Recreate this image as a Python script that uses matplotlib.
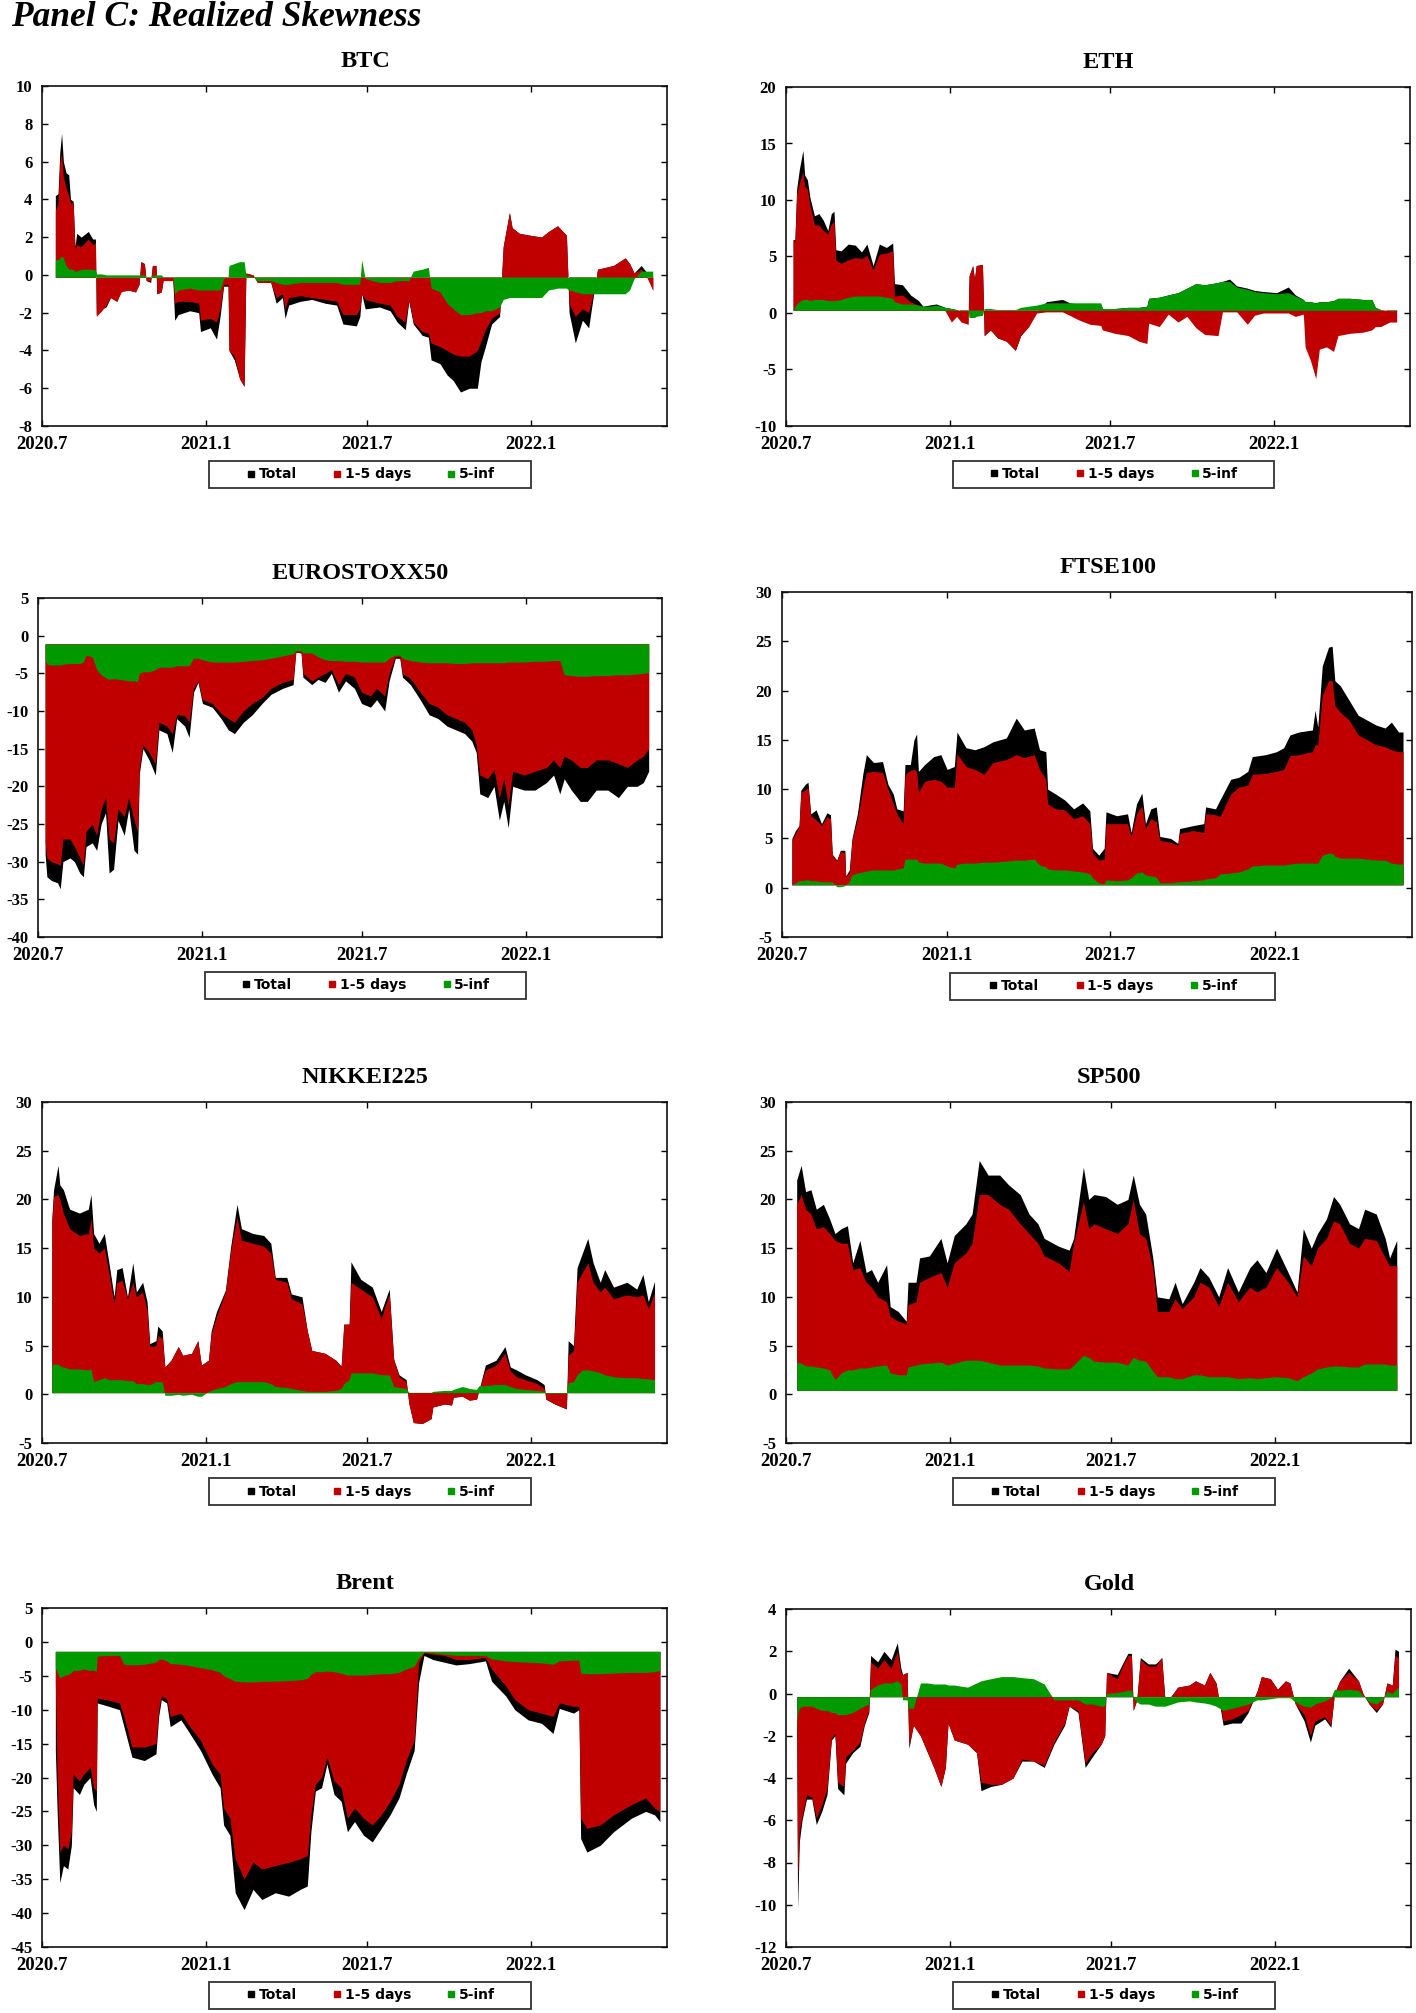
import numpy as np
import matplotlib
matplotlib.use("Agg")
import matplotlib.pyplot as plt
from matplotlib.lines import Line2D
from matplotlib.patches import Rectangle
from matplotlib.font_manager import FontProperties

plt.rcParams['axes.unicode_minus'] = False

# ---------------- data (x = days since 2020-07-01) ----------------
tick_days = [0, 184, 365, 549]
tick_labels = ['2020.7', '2021.1', '2021.7', '2022.1']
legend_labels = ['Total', '1-5 days', '5-inf']

btc_days = [15,18,20,22,24,27,30,32,35,37, 39,44,52,57,60,61,67,72,77,84, 89,97,105,109,111,115,117,122,124,128,
            129,134,136,147,149,153,166,176,178,189, 196,200,204,209,210,216,222,227,229,237, 242,257,263,270,273,277,290,303,318,331,
            338,353,357,359,363,379,391,399,408,412, 417,427,434,437,447,455,462,470,480,489, 493,498,505,514,518,525,528,536,548,561,
            569,579,589,592,599,607,614,619,624,642, 655,660,665,673,678,686]
btc_total = [4.2,4.3,6.5,7.5,6.0,5.4,5.3,4.0,3.9,1.5, 2.2,2.0,2.3,1.9,1.9,-2.1,-1.8,-1.7,-1.2,-1.4, -0.8,-0.8,-0.9,-0.5,0.7,0.6,-0.3,-0.4,0.5,0.5,
             -1.0,-0.9,-0.3,-0.3,-2.4,-2.1,-1.9,-2.0,-3.0,-2.8, -3.4,-2.2,-0.6,-0.6,-4.0,-4.5,-5.5,-5.9,0.1,0.0, -0.4,-0.4,-1.5,-1.2,-2.3,-1.6,-1.4,-1.3,-1.5,-1.6,
             -2.6,-2.7,-2.2,-1.0,-1.8,-1.7,-1.9,-2.5,-2.9,-1.4, -2.6,-3.2,-3.3,-4.5,-4.7,-5.3,-5.6,-6.2,-6.0,-6.0, -4.6,-3.8,-2.6,-2.2,1.5,3.3,2.5,2.2,2.1,2.0,
             2.3,2.6,2.1,-2.0,-3.6,-2.4,-2.8,-1.2,0.3,0.5, 0.9,0.6,0.1,0.5,0.2,-0.8]
btc_short = [3.4,3.8,6.0,6.4,5.2,4.6,4.2,3.8,3.8,1.4, 1.6,1.5,1.9,1.6,1.7,-2.2,-1.9,-1.6,-1.2,-1.4, -0.9,-0.8,-0.9,-0.5,0.7,0.6,-0.3,-0.3,0.5,0.5,
             -1.0,-0.9,-0.3,-0.3,-1.5,-1.4,-1.4,-1.5,-2.4,-2.3, -2.5,-1.8,-0.5,-0.5,-4.0,-4.3,-5.5,-5.9,0.1,0.0, -0.4,-0.4,-1.2,-1.0,-1.8,-1.2,-1.1,-1.2,-1.3,-1.4,
             -2.1,-2.1,-1.8,-1.0,-1.3,-1.5,-1.6,-2.2,-2.5,-1.3, -2.5,-3.0,-3.1,-3.6,-3.8,-4.0,-4.2,-4.3,-4.3,-4.0, -3.5,-2.9,-2.3,-2.0,1.5,3.3,2.5,2.2,2.1,2.0,
             2.3,2.6,2.1,-1.5,-2.2,-1.8,-2.0,-1.0,0.3,0.5, 0.9,0.6,0.1,0.3,0.0,-0.8]
btc_long = [0.8,0.8,0.9,1.0,0.9,0.5,0.3,0.3,0.3,0.2, 0.2,0.3,0.3,0.3,0.25,0.05,0.05,0.0,0.0,0.0, 0.0,0.0,0.0,0.0,0.0,0.0,-0.1,-0.1,0.0,0.0,
            0.0,0.0,-0.1,-0.1,-1.0,-0.8,-0.7,-0.8,-0.8,-0.8, -0.8,-0.8,-0.2,-0.1,0.5,0.6,0.7,0.7,0.0,-0.1, -0.3,-0.3,-0.4,-0.5,-0.5,-0.5,-0.4,-0.4,-0.4,-0.4,
            -0.5,-0.5,-0.5,0.8,-0.2,-0.4,-0.4,-0.3,-0.3,-0.3, 0.2,0.3,0.4,-0.7,-0.9,-1.5,-1.8,-2.1,-2.1,-2.0, -2.0,-1.9,-1.9,-1.7,-1.3,-1.2,-1.2,-1.2,-1.2,-1.2,
            -0.8,-0.7,-0.7,-0.8,-0.9,-1.0,-1.0,-1.0,-1.0,-1.0, -1.0,-0.8,-0.2,0.2,0.2,0.2]

eth_days = [8,10,12,15,19,21,24,27,32,37, 42,47,51,54,56,62,70,78,85,91, 98,105,113,120,122,131,140,149,154,161,
            169,179,186,192,197,205,206,210,212,214, 221,223,230,238,248,258,264,273,282,293, 311,319,329,342,354,356,370,385,397,406,
            408,420,430,441,451,461,471,486,491,499, 507,519,527,537,552,565,573,582,584,590, 596,600,608,616,621,634,649,659,663,669,
            679,687]
eth_total = [6.5,6.5,11.0,12.7,14.4,12.2,11.8,10.2,8.6,8.8, 8.2,7.3,8.8,9.0,5.6,5.5,6.1,6.0,5.4,6.1, 4.2,6.1,5.8,6.2,2.6,2.5,1.6,1.1,0.6,0.7,
             0.8,0.5,0.4,0.3,0.2,0.2,3.3,4.2,3.0,4.2, 4.3,-2.0,-1.5,-2.2,-2.5,-3.3,-2.0,-1.2,0.2,1.0, 1.2,0.9,0.8,0.8,0.8,0.4,0.4,0.5,0.5,0.6,
             1.3,1.4,1.6,1.8,2.2,2.6,2.5,2.7,2.8,3.0, 2.4,2.2,2.0,1.9,1.8,2.3,1.6,1.2,1.0,1.0, 0.9,1.0,1.0,1.1,1.3,1.3,1.2,1.2,0.5,0.3,
             0.2,0.2]
eth_short = [6.5,6.3,10.5,11.5,12.5,11.2,11.0,9.5,7.8,7.8, 7.3,7.0,7.9,8.1,4.7,4.4,4.7,4.9,4.8,5.1, 3.8,5.2,5.3,5.5,1.5,1.6,1.0,0.7,0.5,0.3,
             0.4,0.2,-0.8,-0.3,-0.8,-1.0,3.3,4.2,3.0,4.2, 4.3,-2.0,-1.5,-2.2,-2.5,-3.3,-2.0,-1.2,0.0,0.1, 0.1,-0.2,-0.6,-1.0,-1.1,-1.5,-1.8,-2.0,-2.5,-2.7,
             -0.9,-1.2,-0.1,-0.8,-0.3,-1.3,-1.9,-2.0,0.1,0.1, 0.1,-1.0,-0.2,0.0,0.0,0.0,-0.3,-0.1,-3.0,-4.2, -5.8,-3.2,-3.0,-3.4,-2.0,-1.8,-1.7,-1.5,-1.2,-1.2,
             -0.8,-0.8]
eth_long = [0.3,0.5,0.8,1.0,1.2,1.2,1.2,1.1,1.2,1.2, 1.2,1.1,1.1,1.1,1.1,1.2,1.4,1.5,1.5,1.5, 1.5,1.5,1.4,1.3,1.0,0.8,0.8,0.7,0.6,0.6,
            0.7,0.5,0.4,0.3,0.2,0.2,-0.4,-0.4,-0.4,-0.3, -0.2,0.4,0.4,0.3,0.3,0.3,0.5,0.6,0.7,0.9, 0.9,0.9,0.9,0.9,0.9,0.4,0.4,0.5,0.5,0.6,
            1.3,1.4,1.6,1.8,2.2,2.6,2.5,2.7,2.8,2.8, 2.3,2.1,1.9,1.8,1.7,1.8,1.5,1.2,1.0,1.0, 0.9,1.0,1.0,1.1,1.3,1.3,1.2,1.2,0.5,0.3,
            0.2,0.2]

euro_days = [8,10,15,22,25,28,36,41,47,51, 54,61,66,71,76,80,85,90,97,102, 108,112,114,118,125,132,136,145,151,156,
             165,170,175,180,185,196,206,214,221,231, 241,252,262,275,287,290,296,298,308,315, 323,330,338,346,356,364,374,381,390,395,
             402,407,410,419,430,440,450,460,470,480, 488,493,497,506,513,519,524,529,534,547, 559,572,580,587,592,600,610,618,628,641,
             653,663,674,681,687]
euro_total = [-29.0,-32.0,-32.5,-32.8,-33.6,-30.0,-29.5,-30.0,-31.5,-32.0, -28.0,-27.5,-28.5,-25.0,-23.5,-31.5,-31.0,-24.5,-26.5,-23.0,
              -28.5,-29.0,-18.3,-15.0,-16.5,-18.5,-12.5,-13.0,-15.5,-11.0, -12.0,-13.5,-7.5,-6.2,-9.0,-9.5,-11.0,-12.5,-13.0,-11.5,
              -10.5,-9.0,-7.8,-7.0,-6.5,-2.2,-2.3,-5.5,-6.5,-5.8, -6.2,-5.0,-7.5,-6.0,-7.0,-9.0,-9.5,-8.5,-10.0,-6.0,
              -3.0,-3.0,-5.5,-6.5,-8.5,-10.5,-11.0,-12.0,-12.5,-13.0, -14.0,-15.5,-21.0,-21.5,-20.0,-24.5,-22.0,-25.5,-20.0,-20.5,
              -20.5,-19.5,-18.5,-21.0,-19.0,-20.5,-22.0,-22.0,-20.5,-20.5, -21.5,-20.0,-20.0,-19.5,-18.0]
euro_short = [-27.5,-29.5,-30.0,-30.3,-30.5,-27.0,-27.0,-28.0,-29.5,-30.5, -26.0,-25.0,-26.5,-23.0,-21.5,-27.0,-27.5,-23.0,-24.0,-21.5,
              -24.5,-26.0,-17.5,-14.5,-15.5,-17.0,-11.5,-12.0,-13.0,-10.5, -10.6,-11.5,-7.0,-6.0,-8.5,-9.0,-10.3,-11.0,-11.5,-10.0,
              -9.0,-8.2,-7.0,-6.2,-5.8,-2.2,-2.2,-5.0,-6.0,-5.5, -5.0,-4.5,-6.5,-5.0,-5.5,-7.5,-8.0,-7.0,-8.0,-5.0,
              -2.8,-2.8,-5.0,-5.7,-7.5,-9.0,-9.5,-10.5,-11.0,-11.5, -12.5,-14.5,-18.5,-19.0,-17.8,-21.5,-19.0,-22.5,-18.0,-18.5,
              -18.0,-17.5,-16.5,-17.5,-16.0,-16.5,-17.5,-17.5,-16.5,-16.5, -17.0,-17.5,-16.5,-16.0,-15.0]
euro_long = [-3.2,-3.8,-3.9,-3.9,-3.9,-3.8,-3.7,-3.7,-3.7,-3.5, -2.6,-2.8,-4.5,-5.2,-5.6,-5.8,-5.7,-5.8,-5.9,-6.0,
             -6.0,-6.1,-5.0,-4.8,-4.8,-4.5,-4.2,-4.2,-4.2,-4.0, -4.0,-4.0,-3.0,-3.0,-3.2,-3.5,-3.5,-3.5,-3.5,-3.4,
             -3.3,-3.2,-3.0,-2.7,-2.4,-2.0,-2.0,-2.3,-2.3,-2.8, -3.2,-3.3,-3.3,-3.4,-3.4,-3.5,-3.5,-3.5,-3.5,-3.0,
             -2.6,-2.6,-3.0,-3.3,-3.5,-3.6,-3.6,-3.6,-3.7,-3.7, -3.6,-3.6,-3.6,-3.6,-3.6,-3.6,-3.6,-3.5,-3.5,-3.5,
             -3.4,-3.4,-3.3,-3.3,-5.2,-5.3,-5.4,-5.4,-5.3,-5.3, -5.2,-5.2,-5.1,-5.0,-4.9]

ftse_days = [11,15,19,21,26,29,32,38,44,50, 54,56,61,65,70,71,75,78,84,90, 94,102,112,118,124,128,135,137,143,147,
             150,152,159,169,177,184,192,195,205,215, 225,235,250,261,270,281,287,294,296,305, 315,325,335,343,346,353,359,361,373,385,
             389,395,401,405,411,417,421,433,441,443, 458,470,472,483,488,500,509,519,524,539, 551,559,566,576,591,594,597,602,609,613,
             616,622,632,642,652,662,672,679,687,692]
ftse_total = [5.0,5.8,6.3,9.9,10.5,10.7,7.5,7.9,6.5,7.6, 7.4,3.4,2.8,3.8,3.8,1.2,1.8,5.0,7.5,11.5, 13.5,12.7,12.8,10.5,9.5,8.0,7.8,12.5,12.5,15.0,
              15.6,11.8,12.5,13.3,13.5,12.0,12.3,15.8,14.2,14.0, 14.3,14.8,15.2,17.2,16.0,16.2,14.0,13.8,10.0,9.5, 8.9,8.0,8.6,7.8,4.0,3.3,4.0,7.7,7.3,7.5,
              5.6,8.5,9.6,6.5,8.0,8.2,5.2,5.0,4.5,6.0, 6.3,6.5,8.2,8.0,8.9,11.0,11.2,11.8,13.3,13.5, 13.8,14.2,15.5,15.8,16.0,18.0,16.3,22.5,24.4,24.5,
              21.0,20.5,19.0,17.5,17.0,16.5,16.2,16.8,15.8,15.8]
ftse_short = [4.8,5.5,6.2,9.7,9.9,10.2,7.3,6.9,6.3,7.2, 7.0,3.3,2.7,3.7,3.5,1.1,1.5,4.8,7.0,10.0, 11.7,11.8,11.7,10.0,8.5,7.5,6.5,11.5,11.9,12.0,
              11.8,9.7,10.8,11.0,10.8,10.2,10.2,13.6,12.3,12.0, 11.5,12.7,13.0,13.5,13.2,13.5,12.0,11.0,8.5,8.0, 7.9,7.0,7.3,6.5,3.5,2.8,2.9,6.5,6.5,6.5,
              5.2,7.5,8.3,6.0,7.0,6.7,4.8,4.6,4.3,5.5, 5.8,5.6,7.5,7.4,7.2,9.5,10.2,10.4,11.5,11.6, 11.8,12.0,13.4,13.5,13.8,14.5,14.5,19.5,21.0,21.0,
              18.5,17.8,17.0,15.5,15.0,14.5,14.3,14.0,13.8,13.8]
ftse_long = [0.3,0.5,0.7,0.7,0.8,0.8,0.7,0.7,0.6,0.6, 0.6,0.6,0.1,0.1,0.2,0.3,0.6,1.3,1.5,1.6, 1.7,1.8,1.8,1.8,1.8,1.9,2.0,2.9,2.9,2.9,
             2.9,2.6,2.5,2.5,2.5,2.2,2.0,2.4,2.5,2.5, 2.6,2.6,2.7,2.8,2.8,2.9,2.3,2.1,1.9,1.8, 1.8,1.7,1.6,1.4,1.0,0.5,0.4,0.8,0.7,0.8,
             1.0,1.5,1.6,1.3,1.2,1.1,0.5,0.5,0.6,0.6, 0.7,0.8,0.9,1.0,1.4,1.5,1.6,1.9,2.2,2.3, 2.3,2.3,2.4,2.5,2.5,2.5,2.5,3.3,3.5,3.5,
             3.2,3.0,3.0,3.0,2.9,2.8,2.8,2.5,2.4,2.4]

nikkei_days = [11,13,18,20,24,31,42,52,55,58, 64,70,76,81,84,90,96,102,106,113, 118,121,128,130,135,138,145,153,158,168,
               175,179,187,190,196,206,212,219,224,237, 249,257,262,275,280,292,298,303,318,330, 336,339,345,347,358,371,381,390,395,401,
               409,412,417,427,437,439,452,460,462,472, 480,488,491,498,510,520,526,533,543,556, 564,566,576,589,591,597,601,607,613,619,
               627,632,642,657,668,675,681,688]
nikkei_total = [18.0,21.0,23.5,21.5,21.0,19.0,18.6,19.0,20.5,16.5, 15.5,16.5,13.0,10.0,12.8,13.0,10.0,13.5,10.5,11.5,
                9.5,5.2,5.5,7.0,6.5,2.8,3.5,4.9,4.0,4.2, 5.5,3.0,3.5,6.5,8.5,10.7,15.2,19.5,17.0,16.5,
                16.3,15.5,12.0,12.0,10.3,10.0,6.5,4.5,4.2,3.5, 2.9,7.2,7.2,13.6,11.8,11.0,8.5,10.8,3.6,2.0,
                1.5,-0.9,-2.9,-3.0,-2.5,-1.3,-1.0,-1.1,-0.3,-0.2, -0.6,-0.5,0.5,3.0,3.5,4.9,2.8,2.5,2.0,1.5,
                1.0,-0.5,-1.0,-1.5,5.5,5.0,13.0,14.5,16.0,13.5, 11.5,12.8,11.0,11.5,10.8,12.3,9.5,11.6]
nikkei_short = [17.5,20.3,20.5,20.0,18.6,17.0,16.3,16.5,18.0,15.0, 14.5,15.0,12.0,9.3,11.5,11.7,9.8,11.5,10.0,10.5,
                8.6,4.9,5.0,6.0,5.8,2.8,3.5,4.9,4.0,4.2, 5.5,3.0,3.5,6.2,8.0,10.5,14.8,18.2,15.8,15.5,
                15.2,14.5,11.8,11.5,9.8,9.3,6.5,4.5,4.2,3.5, 2.8,7.2,7.2,11.5,10.8,10.0,7.8,10.3,3.6,1.8,
                1.3,-0.9,-2.9,-3.0,-2.5,-1.3,-1.0,-1.1,-0.3,-0.2, -0.6,-0.5,0.5,2.5,3.0,4.2,2.4,1.8,1.5,1.1,
                0.6,-0.5,-1.0,-1.5,4.0,4.5,11.5,12.5,13.5,11.5, 10.5,11.0,9.8,10.2,10.0,10.2,8.8,10.4]
nikkei_long = [3.0,3.1,3.1,2.9,2.8,2.6,2.6,2.5,2.6,1.3, 1.5,1.7,1.5,1.5,1.5,1.5,1.4,1.4,1.1,1.1,
               1.0,1.0,1.3,1.3,1.3,-0.1,-0.1,0.0,-0.1,0.0, -0.2,-0.2,0.3,0.4,0.6,0.8,1.1,1.3,1.3,1.3,
               1.3,1.1,0.8,0.7,0.6,0.4,0.3,0.3,0.3,0.4, 0.6,1.1,1.5,2.2,2.2,2.2,2.0,2.0,0.8,0.7,
               0.6,0.2,0.2,0.2,0.2,0.3,0.4,0.4,0.5,0.8, 0.6,0.5,0.9,0.9,1.0,1.0,0.8,0.6,0.5,0.4,
               0.3,0.1,0.1,0.1,1.2,1.3,2.0,2.5,2.5,2.4, 2.2,2.0,1.8,1.7,1.7,1.6,1.6,1.5]

sp_days = [12,17,22,28,34,42,49,55,62,69, 75,83,90,96,103,113,117,126,135,137, 146,150,161,174,181,189,202,209,217,227,
           240,250,263,273,283,290,306,318,323,334, 340,346,359,372,384,390,397,404,412,417, 430,437,445,458,465,475,486,496,508,521,
           529,539,551,564,574,581,590,597,607,615, 622,633,643,650,663,673,678,686]
sp_total = [22.0,23.5,20.8,21.0,19.0,19.5,18.0,16.5,17.0,17.3, 13.5,15.8,12.5,12.8,11.5,13.3,9.0,8.5,7.5,11.5,
            11.5,14.0,14.2,16.0,13.5,16.3,17.5,18.5,24.0,22.5, 22.5,21.5,20.5,18.5,17.5,16.0,15.2,14.8,16.0,23.3,
            20.0,20.5,20.3,19.5,20.0,22.5,19.5,18.5,14.0,10.0, 9.8,11.5,9.3,11.5,13.0,12.0,10.0,13.0,10.5,13.0,
            13.8,12.5,15.0,12.5,10.5,17.0,15.0,16.5,18.0,20.3, 19.5,17.5,17.0,19.0,18.5,16.0,14.0,15.8]
sp_short = [19.5,20.5,19.0,18.5,17.0,17.2,16.5,15.8,15.5,15.5, 12.8,13.0,11.5,11.0,10.0,9.5,8.0,7.5,7.2,9.2,
            9.5,11.5,12.0,12.5,11.0,13.5,14.5,15.5,20.5,20.5, 19.5,19.0,17.5,16.5,15.5,14.2,13.5,12.6,15.5,19.8,
            17.0,17.5,17.0,16.5,17.5,20.0,16.5,16.0,13.0,8.5, 8.5,9.8,8.8,10.0,11.5,11.0,9.0,11.5,9.5,11.0,
            10.5,11.0,13.0,11.5,10.0,14.2,13.2,15.0,16.0,17.8, 17.5,15.5,15.0,16.0,15.8,14.0,13.2,13.2]
sp_long = [3.3,3.2,2.9,2.9,2.8,2.7,2.5,1.5,2.2,2.5, 2.5,2.7,2.7,2.8,2.9,3.0,2.2,2.0,2.0,2.8,
           3.0,3.1,3.2,3.3,3.0,3.2,3.5,3.5,3.5,3.3, 3.0,3.0,3.0,3.0,2.9,2.7,2.6,2.6,3.0,4.0,
           3.8,3.4,3.3,3.3,3.0,3.8,3.5,3.4,2.4,1.8, 1.8,1.6,1.6,2.0,2.0,1.8,1.8,1.8,1.6,1.7,
           1.6,1.7,1.8,1.7,1.4,1.8,2.2,2.6,2.8,2.9, 2.9,2.8,2.8,3.1,3.1,3.1,3.0,3.0]

brent_days = [15,17,20,24,29,33,35,42,47,54, 58,61,62,75,87,92,101,115,128,131, 134,140,144,156,166,178,191,200,204,211,
              217,227,237,247,262,277,290,298,302,307, 314,320,328,336,343,351,361,371,381,391, 401,409,418,423,429,439,452,465,480,498,
              505,521,531,546,561,574,581,597,603,605, 612,627,642,662,678,688,694]
brent_total = [-16.0,-25.0,-35.5,-33.0,-33.5,-30.0,-21.5,-22.5,-21.0,-20.0, -24.0,-25.0,-9.0,-9.5,-10.0,-12.5,-17.0,-17.5,-16.5,-11.0,
               -8.5,-9.0,-12.5,-11.5,-13.5,-16.0,-19.5,-21.5,-27.0,-28.5, -37.0,-39.5,-36.5,-38.0,-37.0,-37.5,-36.5,-36.0,-28.0,-22.0,
               -21.5,-18.0,-22.5,-23.5,-28.0,-26.5,-28.5,-29.5,-27.5,-25.5, -23.0,-19.5,-16.0,-6.0,-2.0,-2.6,-3.0,-3.4,-3.2,-2.8,
               -5.8,-8.0,-10.0,-11.5,-12.0,-13.5,-9.8,-10.5,-10.0,-29.0, -31.0,-30.0,-28.0,-26.0,-25.0,-25.5,-26.5]
brent_short = [-6.0,-20.0,-31.0,-30.0,-30.5,-28.0,-19.5,-20.5,-19.5,-18.5, -21.5,-22.0,-8.3,-8.6,-9.0,-11.0,-15.5,-15.5,-15.0,-10.0,
               -8.0,-8.4,-11.0,-10.5,-12.5,-14.5,-18.0,-19.5,-24.5,-26.0, -32.0,-35.0,-32.5,-33.5,-33.0,-32.5,-32.0,-31.5,-25.5,-21.0,
               -20.0,-17.0,-20.5,-21.5,-26.0,-24.5,-26.0,-27.0,-25.5,-23.5, -21.0,-17.5,-14.5,-3.0,-1.6,-1.8,-2.0,-2.6,-2.6,-2.3,
               -4.0,-6.5,-8.5,-10.0,-10.5,-11.0,-9.0,-9.5,-9.5,-26.0, -27.5,-27.0,-25.5,-24.0,-23.0,-24.5,-25.0]
brent_long = [-3.8,-4.5,-5.3,-5.0,-4.8,-4.5,-4.2,-4.2,-4.0,-4.2, -4.2,-4.3,-2.1,-2.0,-2.0,-3.3,-3.4,-3.3,-3.0,-2.6,
              -2.5,-2.8,-3.2,-3.3,-3.5,-3.8,-4.1,-4.5,-5.0,-5.4, -5.8,-5.9,-5.9,-5.8,-5.8,-5.7,-5.6,-5.4,-4.8,-4.4,
              -4.4,-4.3,-4.4,-4.6,-4.9,-4.9,-4.9,-4.8,-4.7,-4.7, -4.5,-4.0,-3.6,-2.4,-1.5,-1.6,-1.8,-2.0,-2.0,-2.0,
              -2.5,-2.8,-2.9,-3.0,-3.1,-3.3,-2.8,-2.7,-2.7,-4.6, -4.7,-4.7,-4.6,-4.5,-4.5,-4.4,-4.2]

gold_days = [12,13,15,18,23,29,34,40,46,51, 55,58,65,67,75,83,88,93,95,103, 110,118,125,129,131,136,138,143,151,159,
             166,174,179,182,189,204,214,219,230,242, 255,265,278,290,301,313,318,328,336,344, 354,358,360,372,379,384,388,390,394,398,
             407,415,422,426,440,453,460,470,476,483, 491,501,511,519,529,534,544,552,561,566, 572,582,589,594,605,612,616,622,632,643,
             648,655,663,670,675,681,684,688]
gold_total = [-1.5,-10.2,-7.0,-6.0,-5.0,-5.0,-6.2,-5.6,-4.8,-2.2, -2.0,-4.5,-4.8,-3.3,-2.8,-2.5,-1.5,-0.9,1.8,1.5,
              2.0,1.6,2.4,1.2,0.9,1.0,-2.6,-1.5,-2.0,-2.8, -3.5,-4.4,-3.5,-1.4,-2.2,-2.4,-2.8,-4.6,-4.4,-4.3,
              -4.0,-3.2,-3.2,-3.5,-2.4,-1.5,-0.6,-0.9,-3.5,-3.0, -2.4,-2.0,1.0,0.9,1.5,1.9,1.9,-0.8,-0.3,1.7,
              1.4,1.4,1.7,-0.5,0.3,0.4,0.6,0.4,1.0,0.5, -1.5,-1.4,-1.4,-0.9,0.1,0.8,0.7,0.2,0.6,0.5,
              -0.5,-1.3,-2.3,-1.5,-1.2,-1.6,0.0,0.6,1.2,0.6, 0.0,-0.5,-0.9,-0.5,0.5,0.4,2.1,2.0]
gold_short = [-1.5,-8.8,-6.5,-5.8,-4.8,-4.9,-5.9,-5.3,-4.5,-2.1, -1.9,-4.2,-4.4,-3.0,-2.7,-2.3,-1.4,-0.8,1.5,1.2,
              1.6,1.2,2.0,1.0,0.9,1.0,-2.5,-1.5,-2.0,-2.8, -3.5,-4.4,-3.5,-1.4,-2.2,-2.4,-2.8,-4.2,-4.3,-4.3,
              -4.0,-3.1,-3.2,-3.4,-2.3,-1.4,-0.6,-0.8,-3.3,-2.8, -2.4,-2.0,1.0,0.7,1.4,1.8,1.8,-0.8,-0.3,1.6,
              1.3,1.3,1.7,-0.5,0.3,0.4,0.6,0.4,1.0,0.5, -1.3,-1.2,-1.0,-0.8,0.1,0.8,0.7,0.2,0.6,0.5,
              -0.5,-1.0,-2.0,-1.3,-1.1,-1.5,0.0,0.6,1.0,0.6, 0.0,-0.5,-0.8,-0.5,0.5,0.4,1.8,1.7]
gold_long = [-1.5,-1.0,-0.7,-0.6,-0.6,-0.6,-0.7,-0.8,-0.8,-0.9, -0.9,-1.0,-1.0,-1.0,-0.9,-0.7,-0.6,-0.5,0.2,0.4,
             0.5,0.5,0.6,0.45,-0.3,-0.3,-0.7,-0.7,0.5,0.5, 0.45,0.45,0.45,0.4,0.4,0.3,0.5,0.6,0.7,0.8,
             0.8,0.75,0.7,0.45,-0.3,-0.3,-0.3,-0.3,-0.5,-0.5, -0.6,-0.6,0.0,0.05,0.1,0.15,0.15,-0.2,-0.4,-0.5,
             -0.5,-0.6,-0.6,-0.6,-0.4,-0.35,-0.4,-0.45,-0.5,-0.6, -0.8,-0.7,-0.6,-0.5,-0.3,-0.3,-0.25,-0.2,-0.2,-0.2,
             -0.4,-0.6,-0.65,-0.5,-0.35,-0.2,0.2,0.15,0.2,0.15, -0.1,-0.4,-0.5,-0.3,0.1,0.0,0.15,0.3]

# level from which the areas are filled in each panel (as drawn in the original)
fill_bases = [-0.12, 0.25, -1.1, 0.3, 0.17, 0.4, -1.4, -0.15]

panels = [
    ('BTC', btc_days, btc_total, btc_short, btc_long, (-8, 10, 2)),
    ('ETH', eth_days, eth_total, eth_short, eth_long, (-10, 20, 5)),
    ('EUROSTOXX50', euro_days, euro_total, euro_short, euro_long, (-40, 5, 5)),
    ('FTSE100', ftse_days, ftse_total, ftse_short, ftse_long, (-5, 30, 5)),
    ('NIKKEI225', nikkei_days, nikkei_total, nikkei_short, nikkei_long, (-5, 30, 5)),
    ('SP500', sp_days, sp_total, sp_short, sp_long, (-5, 30, 5)),
    ('Brent', brent_days, brent_total, brent_short, brent_long, (-45, 5, 5)),
    ('Gold', gold_days, gold_total, gold_short, gold_long, (-12, 4, 2)),
]

# ---------------- layout / style ----------------
W, H = 1416, 2013
boxes = [(42, 86, 667, 426), (786, 87, 1410, 426),
         (38, 598, 662, 937), (782, 592, 1412, 937),
         (42, 1102, 667, 1443), (786, 1102, 1411, 1443),
         (42, 1608, 667, 1947), (786, 1609, 1411, 1947)]
C_TOTAL, C_SHORT, C_LONG = '#000000', '#c00000', '#009900'

fig = plt.figure(figsize=(W / 100, H / 100), dpi=100)
fig.patch.set_facecolor('white')
fig.text(11 / W, 1 - 26 / H, 'Panel C: Realized Skewness', family='Liberation Serif',
         style='italic', weight='bold', fontsize=25.5, va='baseline', ha='left')

ytick_font = FontProperties(family='Liberation Serif', weight='bold', size=12)
xtick_font = FontProperties(family='Liberation Serif', weight='bold', size=13.5)
leg_font = FontProperties(family='DejaVu Sans', weight='bold', size=10)

for (name, days, tot, sho, lon, (lo, hi, st)), (l, t, r, b), base in zip(panels, boxes, fill_bases):
    ax = fig.add_axes([l / W, 1 - b / H, (r - l) / W, (b - t) / H])
    x = np.asarray(days, dtype=float)
    ax.fill_between(x, base, np.asarray(tot), color=C_TOTAL, lw=0)
    ax.fill_between(x, base, np.asarray(sho), color=C_SHORT, lw=0)
    ax.fill_between(x, base, np.asarray(lon), color=C_LONG, lw=0)
    ax.set_xlim(0, 702)
    ax.set_ylim(lo, hi)
    yt = np.arange(lo, hi + st / 2, st)
    ax.set_yticks(yt)
    ax.set_yticklabels([f'{int(v)}' for v in yt], fontproperties=ytick_font)
    ax.set_xticks(tick_days)
    ax.set_xticklabels(tick_labels, fontproperties=xtick_font)
    ax.tick_params(direction='in', top=True, right=True, length=4, width=1.0)
    ax.tick_params(axis='y', pad=7)
    ax.tick_params(axis='x', pad=7)
    for sp in ax.spines.values():
        sp.set_linewidth(1.2)
        sp.set_color('#111111')
    ax.set_title(name, family='Liberation Serif', weight='bold', fontsize=17.5, pad=14, x=0.517)

    handles = [Line2D([], [], marker='s', ls='', color=c, markersize=4.5)
               for c in (C_TOTAL, C_SHORT, C_LONG)]
    ax.legend(handles, legend_labels, loc='center', bbox_to_anchor=(0.526, -0.1425), ncol=3,
              frameon=False, prop=leg_font, handlelength=0.6, handletextpad=0.25,
              columnspacing=2.6, borderaxespad=0, borderpad=0)
    ax.add_patch(Rectangle((0.267, -0.182), 0.515, 0.079, transform=ax.transAxes,
                           fill=False, edgecolor='#333333', lw=1.3, clip_on=False))

fig.savefig('out.png', dpi=100, facecolor='white')
